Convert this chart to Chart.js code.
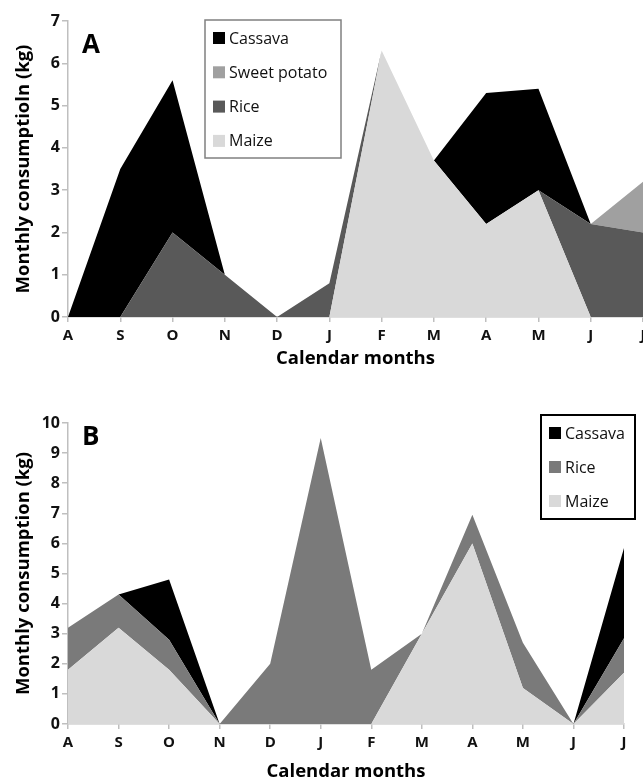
<!DOCTYPE html>
<html>
<head>
<meta charset="utf-8">
<script src="https://cdn.jsdelivr.net/npm/chart.js@4"></script>
<style>
  html, body { margin: 0; padding: 0; background: #fff; overflow: hidden; }
  body { width: 643px; height: 783px; position: relative; }
  canvas { position: absolute; left: 0; }
  #chartA { top: 0; }
  #chartB { top: 390px; }
</style>
</head>
<body>
<canvas id="chartA" width="660" height="390"></canvas>
<canvas id="chartB" width="643" height="393"></canvas>
<script>
// months shared by both panels
const months = ['A', 'S', 'O', 'N', 'D', 'J', 'F', 'M', 'A', 'M', 'J', 'J'];

// panel A (stacked, bottom to top: maize, rice, sweet potato, cassava)
const maizeA = [0, 0, 0, 0, 0, 0, 6.3, 3.7, 2.2, 3.0, 0, 0];
const riceA = [0, 0, 2.0, 1.0, 0, 0.8, 0, 0, 0, 0, 2.2, 2.0];
const sweetPotatoA = [0, 0, 0, 0, 0, 0, 0, 0, 0, 0, 0, 1.2];
const cassavaA = [0, 3.5, 3.6, 0, 0, 0, 0, 0, 3.1, 2.4, 0, 0];

// panel B (stacked, bottom to top: maize, rice, cassava)
const maizeB = [1.8, 3.2, 1.8, 0, 0, 0, 0, 3.0, 6.0, 1.2, 0, 1.7];
const riceB = [1.4, 1.1, 1.0, 0, 2.0, 9.5, 1.8, 0, 0.95, 1.5, 0, 1.15];
const cassavaB = [0, 0, 2.0, 0, 0, 0, 0, 0, 0, 0, 0, 3.0];

const FONT = "'Open Sans', sans-serif";

function area(label, data, color, first) {
    return {
        label: label,
        data: data,
        backgroundColor: color,
        borderColor: color,
        borderWidth: 0,
        pointRadius: 0,
        tension: 0,
        fill: first ? 'origin' : '-1'
    };
}

// draws the boxed legend and the panel letter inside the plot
const panelExtras = {
    id: 'panelExtras',
    afterDraw(chart, args, opts) {
        const ctx = chart.ctx;
        ctx.save();
        ctx.fillStyle = '#000';
        ctx.font = 'bold 26px ' + FONT;
        ctx.textBaseline = 'alphabetic';
        ctx.fillText(opts.letter, opts.letterX, opts.letterY);

        const b = opts.box;
        ctx.strokeStyle = b.border;
        ctx.lineWidth = b.lineWidth;
        ctx.strokeRect(b.x, b.y, b.w, b.h);
        ctx.font = '16px ' + FONT;
        ctx.textBaseline = 'middle';
        const items = chart.data.datasets.slice().reverse();
        items.forEach(function (ds, i) {
            const cy = b.firstY + i * b.step;
            ctx.fillStyle = ds.backgroundColor;
            ctx.fillRect(b.x + 8, cy - 6, 12, 12);
            ctx.fillStyle = '#111';
            ctx.fillText(ds.label, b.x + 24, cy + 1);
        });
        ctx.restore();
    }
};

function makeOptions(yMax, yTitle, xHeight, titlePadBottom, extras) {
    return {
        responsive: false,
        animation: false,
        layout: { padding: extras.padding },
        plugins: {
            legend: { display: false },
            tooltip: { enabled: false },
            panelExtras: extras
        },
        scales: {
            x: {
                offset: false,
                grid: { drawOnChartArea: false, color: '#bfbfbf', tickLength: 5, lineWidth: 1.5 },
                border: { color: '#bfbfbf', width: 1.5 },
                ticks: { color: '#111', font: { family: FONT, size: 15, weight: 'bold' }, padding: 5, maxRotation: 0, autoSkip: false },
                title: { display: true, text: 'Calendar months', color: '#000', font: { family: FONT, size: 18.5, weight: 'bold' }, padding: { top: 0, bottom: titlePadBottom } },
                afterFit: function (scale) { scale.height = xHeight; }
            },
            y: {
                stacked: true,
                min: 0,
                max: yMax,
                grid: { drawOnChartArea: false, color: '#bfbfbf', tickLength: 6, lineWidth: 1.5 },
                border: { color: '#bfbfbf', width: 1.5 },
                ticks: { stepSize: 1, color: '#111', font: { family: FONT, size: 16, weight: 'bold' }, padding: 2 },
                title: { display: true, text: yTitle, color: '#000', font: { family: FONT, size: 18.5, weight: 'bold' }, padding: { top: 13, bottom: 0 } },
                afterFit: function (scale) { scale.width = 68; }
            }
        }
    };
}

new Chart(document.getElementById('chartA'), {
    type: 'line',
    data: {
        labels: months,
        datasets: [
            area('Maize', maizeA, '#d9d9d9', true),
            area('Rice', riceA, '#595959', false),
            area('Sweet potato', sweetPotatoA, '#a0a0a0', false),
            area('Cassava', cassavaA, '#000000', false)
        ]
    },
    options: makeOptions(7, 'Monthly consumptioln (kg)', 73, 20, {
        padding: { top: 21, right: 17, bottom: 0, left: 0 },
        letter: 'A', letterX: 82, letterY: 53,
        box: { x: 205, y: 20, w: 136, h: 138, border: '#808080', lineWidth: 1.5, firstY: 38, step: 34.3 }
    }),
    plugins: [panelExtras]
});

new Chart(document.getElementById('chartB'), {
    type: 'line',
    data: {
        labels: months,
        datasets: [
            area('Maize', maizeB, '#d9d9d9', true),
            area('Rice', riceB, '#7a7a7a', false),
            area('Cassava', cassavaB, '#000000', false)
        ]
    },
    options: makeOptions(10, 'Monthly consumption (kg)', 59, 0, {
        padding: { top: 33, right: 19, bottom: 0, left: 0 },
        letter: 'B', letterX: 82, letterY: 55,
        box: { x: 541, y: 25, w: 94, h: 104, border: '#000', lineWidth: 2, firstY: 43, step: 34 }
    }),
    plugins: [panelExtras]
});
</script>
</body>
</html>
